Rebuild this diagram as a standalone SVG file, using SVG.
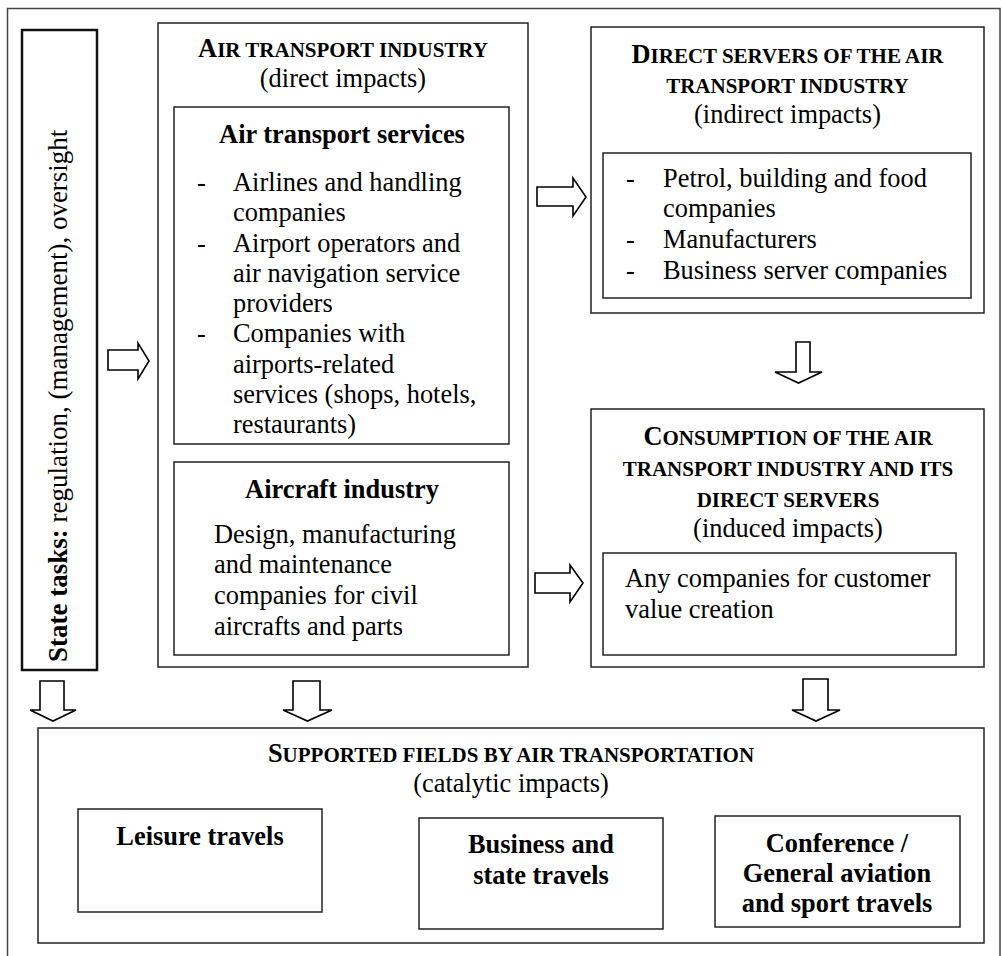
<svg xmlns="http://www.w3.org/2000/svg" width="1002" height="956" viewBox="0 0 1002 956">
<style>
.box{fill:none;stroke:#222;stroke-width:1.5}
.thick{fill:none;stroke:#111;stroke-width:2.5}
.frame{fill:none;stroke:#444;stroke-width:1.5}
.arr{fill:#fff;stroke:#000;stroke-width:1.6;stroke-linejoin:miter}
text{font-family:"Liberation Serif","Times New Roman",serif;font-size:26.4px;fill:#000}
.b{font-weight:bold}
.c{text-anchor:middle}
.sc{font-size:21px}
</style>
<rect width="1002" height="956" fill="#fff"/>
<rect class="frame" x="7.5" y="8.5" width="992.5" height="960"/>

<g id="state">
<rect class="thick" x="22" y="30" width="75" height="640"/>
<text transform="translate(67,662) rotate(-90)" style="font-size:27px"><tspan class="b">State tasks:</tspan> regulation, (management), oversight</text>
</g>

<g id="air-transport-industry">
<rect class="box" x="158" y="23" width="370" height="644"/>
<text class="c b" x="343" y="57">A<tspan class="sc">IR TRANSPORT INDUSTRY</tspan></text>
<text class="c" x="343" y="87">(direct impacts)</text>
</g>

<g id="air-transport-services">
<rect class="box" x="174" y="107" width="335" height="337"/>
<text class="c b" x="342" y="143">Air transport services</text>
<text x="197" y="191">-</text>
<text x="233" y="191">Airlines and handling</text>
<text x="233" y="221">companies</text>
<text x="197" y="252">-</text>
<text x="233" y="252">Airport operators and</text>
<text x="233" y="282">air navigation service</text>
<text x="233" y="312">providers</text>
<text x="197" y="342">-</text>
<text x="233" y="342">Companies with</text>
<text x="233" y="373">airports-related</text>
<text x="233" y="403">services (shops, hotels,</text>
<text x="233" y="433">restaurants)</text>
</g>

<g id="aircraft-industry">
<rect class="box" x="174" y="462" width="335" height="193"/>
<text class="c b" x="342" y="498">Aircraft industry</text>
<text x="214" y="543">Design, manufacturing</text>
<text x="214" y="573">and maintenance</text>
<text x="214" y="604">companies for civil</text>
<text x="214" y="635">aircrafts and parts</text>
</g>

<g id="direct-servers">
<rect class="box" x="591" y="27" width="393" height="286"/>
<text class="c b" x="787.5" y="63">D<tspan class="sc">IRECT SERVERS OF THE AIR</tspan></text>
<text class="c b sc" x="787.5" y="93">TRANSPORT INDUSTRY</text>
<text class="c" x="787.5" y="123">(indirect impacts)</text>
<rect class="box" x="603" y="153" width="368" height="145"/>
<text x="626" y="187">-</text>
<text x="663" y="187">Petrol, building and food</text>
<text x="663" y="217">companies</text>
<text x="626" y="248">-</text>
<text x="663" y="248">Manufacturers</text>
<text x="626" y="279">-</text>
<text x="663" y="279">Business server companies</text>
</g>

<g id="consumption">
<rect class="box" x="591" y="409" width="393" height="258"/>
<text class="c b" x="788" y="445">C<tspan class="sc">ONSUMPTION OF THE AIR</tspan></text>
<text class="c b sc" x="788" y="476">TRANSPORT INDUSTRY AND ITS</text>
<text class="c b sc" x="788" y="507">DIRECT SERVERS</text>
<text class="c" x="788" y="537">(induced impacts)</text>
<rect class="box" x="603" y="553" width="353" height="102"/>
<text x="625" y="587">Any companies for customer</text>
<text x="625" y="618">value creation</text>
</g>

<g id="supported-fields">
<rect class="box" x="38" y="728" width="946" height="215"/>
<text class="c b" x="511" y="762">S<tspan class="sc">UPPORTED FIELDS BY AIR TRANSPORTATION</tspan></text>
<text class="c" x="511" y="792">(catalytic impacts)</text>
</g>

<g id="leisure-travels">
<rect class="box" x="78" y="809" width="244" height="103"/>
<text class="c b" x="200" y="845">Leisure travels</text>
</g>

<g id="business-travels">
<rect class="box" x="419" y="818" width="244" height="111"/>
<text class="c b" x="541" y="853">Business and</text>
<text class="c b" x="541" y="884">state travels</text>
</g>

<g id="conference-travels">
<rect class="box" x="715" y="816" width="245" height="111"/>
<text class="c b" x="837" y="852">Conference /</text>
<text class="c b" x="837" y="882">General aviation</text>
<text class="c b" x="837" y="912">and sport travels</text>
</g>

<g id="connectors">
<path class="arr" d="M108,350 H138 V343 L149,361 L138,379 V370 H108 Z"/>
<path class="arr" d="M537,187 H573 V178 L586,197 L573,216 V206 H537 Z"/>
<path class="arr" d="M535,573 H570 V565 L583,583 L570,602 V593 H535 Z"/>
<path class="arr" d="M796,342 H810 V372 H822 L798.5,383 L775,372 H796 Z"/>
<path class="arr" d="M40,681 H64 V710 H76 L53,721 L30,710 H40 Z"/>
<path class="arr" d="M293,681 H320 V710 H332 L307.5,721 L283,710 H293 Z"/>
<path class="arr" d="M803,679 H828 V710 H840 L816,721 L792,710 H803 Z"/>
</g>
</svg>
